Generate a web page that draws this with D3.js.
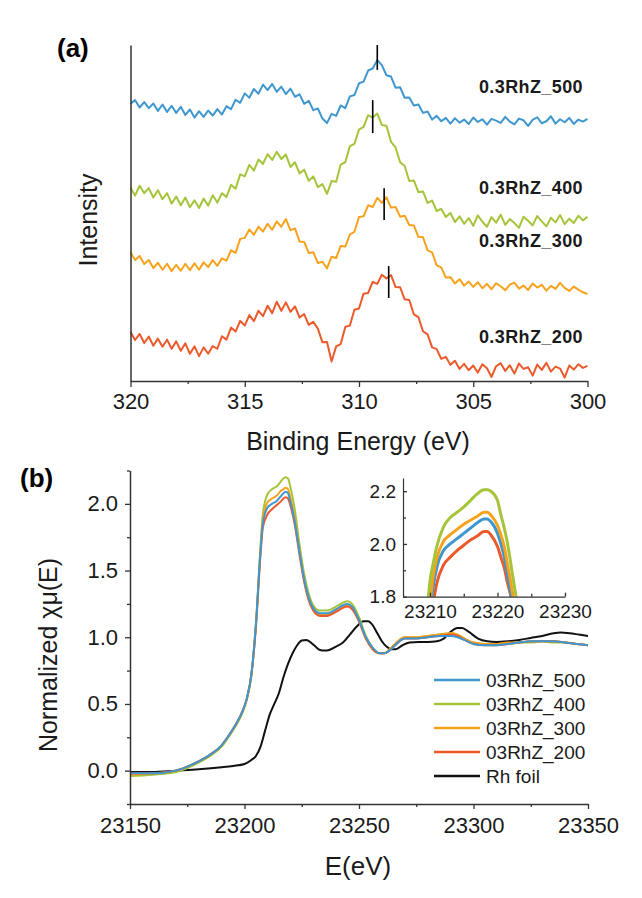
<!DOCTYPE html>
<html><head><meta charset="utf-8">
<script src="https://cdn.jsdelivr.net/npm/d3@7"></script>
<style>
body{margin:0;background:#fff;}
svg text{font-family:"Liberation Sans",Arial,Helvetica,sans-serif;}
</style></head><body>
<svg id="chart" width="642" height="898"></svg>
<script>
// ---------- Panel (a): XPS Rh 3d ----------
const xpsStart = 320, xpsStep = 0.2;
const xpsNames = ["0.3RhZ_500", "0.3RhZ_400", "0.3RhZ_300", "0.3RhZ_200"];
const xps500 = [82.5,83.6,81.4,83.0,81.2,82.6,80.4,82.3,80.1,81.9,
79.8,81.6,79.2,80.8,78.4,80.3,78.6,80.5,79.0,80.9,
79.3,81.8,80.9,83.7,82.8,85.6,84.3,86.9,85.5,88.2,
86.6,88.4,86.1,87.6,85.4,87.0,84.6,85.3,82.5,83.4,
80.6,81.1,78.1,76.8,79.5,78.9,82.0,81.2,84.7,85.1,
88.6,89.1,92.4,93.0,95.5,94.0,91.0,90.6,87.3,87.4,
84.3,84.4,82.0,82.3,79.8,80.2,77.8,78.9,77.3,78.3,
76.6,78.2,76.9,77.8,76.5,78.4,77.1,77.9,76.3,78.0,77.5,76.8,78.6,77.2,76.4,78.1,77.6,75.9,77.7,78.5,76.7,77.3,78.8,76.6,77.9,77.0,78.3,76.5,77.8,77.2,78.0];
const xps400 = [57.5,55.2,58.1,55.9,57.4,54.6,56.8,54.1,55.9,52.8,
54.9,52.3,54.6,51.7,53.8,51.5,54.3,52.2,55.3,53.1,
55.9,54.8,58.4,57.2,61.5,60.9,64.3,62.6,65.9,64.6,
67.5,65.8,68.2,66.1,67.4,63.7,65.1,61.8,62.9,59.6,
60.9,57.7,58.6,55.7,59.5,59.3,64.4,65.1,69.9,70.6,
74.8,75.6,79.1,78.4,79.6,76.2,76.0,71.2,69.5,65.1,
64.0,59.5,59.7,56.2,56.4,53.0,53.7,50.6,51.2,48.8,
50.0,47.3,49.0,46.8,48.5,46.2,49.3,47.4,45.9,48.8,47.1,49.5,46.5,48.2,47.0,45.6,48.9,47.7,46.3,49.1,47.5,46.0,48.6,47.2,49.4,46.7,48.3,47.0,49.2,47.8,48.9];
const xps300 = [38.3,36.0,37.2,34.8,36.0,33.6,35.2,33.1,34.9,32.7,
34.6,32.8,34.9,33.0,35.0,33.1,35.3,33.9,36.0,34.3,
36.5,35.8,38.9,38.1,42.3,42.6,45.1,43.5,45.9,44.5,
46.8,45.0,47.5,45.9,48.2,44.9,45.4,41.5,41.4,38.1,
38.3,35.1,35.5,33.5,37.0,36.6,40.2,40.0,43.6,44.4,
48.8,49.0,52.3,51.8,54.5,53.0,54.7,51.6,51.8,48.9,
49.2,46.4,46.3,42.9,42.8,38.9,38.3,34.4,33.8,30.8,
30.9,29.0,30.3,28.4,29.6,28.0,29.4,27.6,28.9,27.3,29.1,28.2,27.0,28.7,29.3,27.5,28.4,27.1,29.0,27.8,28.6,26.9,28.3,27.4,29.2,27.7,26.8,28.1,27.2,26.4,25.9];
const xps200 = [14.6,12.2,14.0,11.3,13.2,10.5,12.6,10.2,12.3,9.6,
11.8,9.0,11.2,8.1,10.3,7.4,10.0,8.1,10.4,9.6,
13.3,12.3,15.9,14.7,17.9,16.5,19.6,17.8,20.9,19.3,
22.4,20.2,23.6,20.9,23.4,20.6,22.2,18.9,19.9,16.7,
17.6,15.6,11.5,11.6,5.8,10.3,11.0,16.1,16.5,21.2,
21.6,26.0,26.2,29.5,28.9,31.6,30.5,31.5,28.0,27.9,
24.3,24.1,19.8,19.0,14.8,13.9,10.0,9.5,6.6,7.2,
4.8,6.0,3.6,5.1,3.2,4.6,2.5,5.0,3.8,1.2,4.4,5.3,3.0,4.7,2.2,5.2,3.6,4.1,1.6,4.9,3.3,5.4,2.8,4.3,3.7,1.0,4.6,3.4,5.0,3.9,4.5];
const xpsPeakE = [309.2, 309.4, 308.9, 308.7];
const xpsPeakLo = [92.6, 73.8, 47.9, 24.7];
const xpsPeakHi = [100, 83.6, 57.4, 34.2];
const xpsLabelLevel = [87.5, 57.7, 41.7, 13.1];
const xpsTicks = [320, 315, 310, 305, 300];
const xpsMinorTicks = [317.5, 312.5, 307.5, 302.5];

// ---------- Panel (b): XANES Rh K-edge ----------
const xanesNames = ["03RhZ_500", "03RhZ_400", "03RhZ_300", "03RhZ_200", "Rh foil"];
const xanesE = [23150,23160,23170,23175,23180,23185,23190,23193,23196,23199,
23201,23203,23205,23207,23208,23210,23212,23214,23216,23217,
23218,23219,23220,23222,23224,23226,23228,23230,23233,23236,
23240,23243,23245,23247,23250,23253,23256,23259,23261,23264,
23267,23270,23275,23280,23285,23290,23293,23296,23300,23305,
23310,23315,23320,23325,23330,23335,23340,23345,23350];
const mu500 = [-0.02,-0.02,0.00,0.03,0.07,0.12,0.19,0.26,0.34,0.44,
0.54,0.72,1.10,1.65,1.85,1.97,2.00,2.02,2.06,2.08,
2.09,2.08,2.02,1.86,1.64,1.44,1.30,1.22,1.18,1.18,
1.21,1.24,1.25,1.23,1.13,1.00,0.92,0.88,0.88,0.91,
0.96,0.99,0.99,1.00,1.01,1.01,1.00,0.98,0.95,0.94,
0.94,0.95,0.96,0.97,0.97,0.97,0.96,0.95,0.94];
const mu400 = [-0.04,-0.03,-0.01,0.02,0.06,0.11,0.18,0.25,0.33,0.43,
0.53,0.71,1.10,1.68,1.92,2.07,2.11,2.13,2.17,2.19,
2.20,2.19,2.13,1.95,1.70,1.48,1.33,1.24,1.20,1.20,
1.23,1.26,1.27,1.25,1.15,1.01,0.92,0.88,0.88,0.92,
0.97,1.00,1.00,1.01,1.02,1.03,1.02,0.99,0.96,0.95,
0.95,0.95,0.96,0.96,0.97,0.96,0.96,0.95,0.94];
const mu300 = [-0.03,-0.02,0.00,0.03,0.07,0.12,0.19,0.26,0.34,0.44,
0.54,0.72,1.10,1.66,1.88,2.01,2.04,2.06,2.10,2.11,
2.12,2.11,2.05,1.88,1.65,1.44,1.29,1.21,1.17,1.17,
1.20,1.23,1.24,1.22,1.12,0.99,0.91,0.88,0.88,0.92,
0.97,1.00,1.00,1.01,1.02,1.03,1.02,0.99,0.96,0.95,
0.95,0.96,0.96,0.97,0.97,0.97,0.96,0.95,0.94];
const mu200 = [-0.02,-0.02,0.00,0.03,0.07,0.12,0.19,0.26,0.34,0.44,
0.54,0.72,1.08,1.62,1.82,1.92,1.96,1.99,2.02,2.04,
2.05,2.04,1.99,1.84,1.62,1.42,1.28,1.20,1.16,1.16,
1.19,1.22,1.23,1.21,1.12,0.99,0.91,0.88,0.88,0.91,
0.96,0.99,0.99,1.00,1.01,1.02,1.01,0.98,0.95,0.94,
0.94,0.95,0.96,0.97,0.97,0.97,0.96,0.95,0.94];
const foilE = [23150,23160,23170,23180,23190,23195,23200,23203,23205,23207,
23209,23211,23213,23215,23217,23219,23221,23223,23225,23227,
23229,23231,23233,23235,23237,23240,23243,23246,23249,23252,
23254,23256,23258,23260,23262,23264,23266,23269,23272,23276,
23280,23284,23287,23290,23293,23295,23298,23302,23306,23310,
23315,23320,23325,23330,23335,23338,23342,23346,23350];
const muFoil = [-0.01,-0.01,0.00,0.01,0.025,0.035,0.05,0.08,0.11,0.18,
0.30,0.42,0.50,0.58,0.70,0.80,0.88,0.94,0.975,0.98,
0.96,0.93,0.905,0.90,0.905,0.93,0.96,1.02,1.08,1.12,
1.12,1.09,1.03,0.97,0.93,0.91,0.91,0.94,0.96,0.965,
0.965,0.97,0.99,1.04,1.07,1.07,1.04,0.99,0.97,0.965,
0.97,0.98,0.995,1.01,1.03,1.035,1.03,1.02,1.01];
const xanesXTicks = [23150, 23200, 23250, 23300, 23350];
const xanesXMinor = [23175, 23225, 23275, 23325];
const xanesYTicks = [0.0, 0.5, 1.0, 1.5, 2.0];
const xanesYMinor = [-0.25, 0.25, 0.75, 1.25, 1.75, 2.25];

// inset (white line zoom)
const insetE = [23209.5,23210,23210.5,23211,23212,23213,23214,23215,23216,23217,
23218,23218.5,23219,23220,23220.5,23221,23221.5,23222,23222.5,23223];
const inset500 = [1.64,1.74,1.84,1.91,1.975,2.00,2.02,2.04,2.06,2.08,2.095,2.095,2.085,2.04,2.00,1.95,1.88,1.81,1.73,1.66];
const inset400 = [1.72,1.86,1.93,1.99,2.065,2.10,2.12,2.14,2.165,2.19,2.205,2.205,2.20,2.165,2.11,2.06,2.00,1.92,1.84,1.76];
const inset300 = [1.68,1.78,1.88,1.945,2.01,2.035,2.055,2.075,2.09,2.105,2.12,2.12,2.11,2.07,2.035,1.99,1.92,1.85,1.77,1.70];
const inset200 = [1.60,1.70,1.78,1.85,1.92,1.95,1.975,1.995,2.015,2.03,2.047,2.047,2.035,1.99,1.95,1.91,1.85,1.80,1.73,1.66];
const insetXTicks = [23210, 23220, 23230];
const insetXMinor = [23215, 23225];
const insetYTicks = [1.8, 2.0, 2.2];
const insetYMinor = [1.9, 2.1];

// ---------- styles ----------
const colors = ["#3f97cf", "#a5c43a", "#f6a21c", "#ec5a2c", "#111111"];
const axisColor = "#333";
const textColor = "#1a1a1a";

const svg = d3.select("#chart");

function styleAxis(g, fs) {
  g.selectAll("path.domain").attr("stroke", axisColor).attr("stroke-width", 1.5);
  g.selectAll(".tick line").attr("stroke", axisColor).attr("stroke-width", 1.3);
  g.selectAll(".tick text").attr("fill", textColor).style("font-size", fs + "px")
    .style("font-family", '"Liberation Sans", Arial, sans-serif');
  g.attr("font-family", null).attr("font-size", null);
}

// ================= Panel (a) =================
const xA = d3.scaleLinear().domain([320, 300]).range([130.5, 587.5]);
const yA = d3.scaleLinear().domain([0, 100]).range([381, 45]);
const xpsE = xps500.map((_, i) => +(xpsStart - i * xpsStep).toFixed(2));
const xpsSeries = [xps500, xps400, xps300, xps200];

const gA = svg.append("g");
const lineA = d3.line().x((d, i) => xA(xpsE[i])).y(d => yA(d));
xpsSeries.forEach((s, k) => {
  gA.append("path").datum(s).attr("d", lineA)
    .attr("fill", "none").attr("stroke", colors[k]).attr("stroke-width", 2)
    .attr("stroke-linejoin", "round");
});
xpsPeakE.forEach((e, k) => {
  gA.append("line").attr("x1", xA(e)).attr("x2", xA(e))
    .attr("y1", yA(xpsPeakLo[k])).attr("y2", yA(xpsPeakHi[k]))
    .attr("stroke", "#000").attr("stroke-width", 1.6);
});
xpsNames.forEach((n, k) => {
  gA.append("text").attr("x", 583).attr("y", yA(xpsLabelLevel[k])).attr("dy", "0.36em")
    .attr("text-anchor", "end").style("font-size", "18px").style("font-weight", "bold")
    .style("letter-spacing", "0.4px").attr("fill", textColor).text(n);
});
// axes
const axA = gA.append("g").attr("transform", "translate(0,381)")
  .call(d3.axisBottom(xA).tickValues(xpsTicks).tickSize(6).tickSizeOuter(0).tickPadding(6).tickFormat(d3.format("d")));
styleAxis(axA, 22);
const axAm = gA.append("g").attr("transform", "translate(0,381)")
  .call(d3.axisBottom(xA).tickValues(xpsMinorTicks).tickSize(3).tickSizeOuter(0).tickFormat(""));
axAm.select("path.domain").remove();
styleAxis(axAm, 10);
const ayA = gA.append("g").attr("transform", "translate(130.5,0)")
  .call(d3.axisLeft(yA).tickValues([]).tickSizeOuter(0));
styleAxis(ayA, 10);

gA.append("text").attr("x", 358).attr("y", 450).attr("text-anchor", "middle")
  .style("font-size", "25px").attr("fill", textColor).text("Binding Energy (eV)");
gA.append("text").attr("transform", "translate(97,220) rotate(-90)").attr("text-anchor", "middle")
  .style("font-size", "25px").attr("fill", textColor).text("Intensity");
gA.append("text").attr("x", 57).attr("y", 57).style("font-size", "26px").style("font-weight", "bold")
  .attr("fill", "#000").text("(a)");

// ================= Panel (b) =================
const xB = d3.scaleLinear().domain([23150, 23350]).range([130, 588]);
const yB = d3.scaleLinear().domain([-0.25, 2.25]).range([804, 470.5]);
const gB = svg.append("g");
gB.append("clipPath").attr("id", "clipB").append("rect")
  .attr("x", 130).attr("y", 465).attr("width", 460).attr("height", 339);

const sampleSeries = [mu400, mu300, mu200, mu500];
const sampleColors = [colors[1], colors[2], colors[3], colors[0]];
const lineB = d3.line().curve(d3.curveMonotoneX).x((d, i) => xB(xanesE[i])).y(d => yB(d));
const lineFoil = d3.line().curve(d3.curveMonotoneX).x((d, i) => xB(foilE[i])).y(d => yB(d));
const plotB = gB.append("g").attr("clip-path", "url(#clipB)");
plotB.append("path").datum(muFoil).attr("d", lineFoil).attr("fill", "none")
  .attr("stroke", colors[4]).attr("stroke-width", 2);
sampleSeries.forEach((s, k) => {
  plotB.append("path").datum(s).attr("d", lineB).attr("fill", "none")
    .attr("stroke", sampleColors[k]).attr("stroke-width", 2);
});

const axB = gB.append("g").attr("transform", "translate(0,804)")
  .call(d3.axisBottom(xB).tickValues(xanesXTicks).tickSize(5).tickSizeOuter(0).tickPadding(8).tickFormat(d3.format("d")));
styleAxis(axB, 22);
const axBm = gB.append("g").attr("transform", "translate(0,804)")
  .call(d3.axisBottom(xB).tickValues(xanesXMinor).tickSize(3).tickSizeOuter(0).tickFormat(""));
axBm.select("path.domain").remove(); styleAxis(axBm, 10);
const ayB = gB.append("g").attr("transform", "translate(130,0)")
  .call(d3.axisLeft(yB).tickValues(xanesYTicks).tickSize(5).tickSizeOuter(0).tickPadding(7).tickFormat(d3.format(".1f")));
styleAxis(ayB, 22);
const ayBm = gB.append("g").attr("transform", "translate(130,0)")
  .call(d3.axisLeft(yB).tickValues(xanesYMinor).tickSize(3).tickSizeOuter(0).tickFormat(""));
ayBm.select("path.domain").remove(); styleAxis(ayBm, 10);

gB.append("text").attr("x", 358).attr("y", 875).attr("text-anchor", "middle")
  .style("font-size", "26px").attr("fill", textColor).text("E(eV)");
gB.append("text").attr("transform", "translate(57,655) rotate(-90)").attr("text-anchor", "middle")
  .style("font-size", "25px").attr("fill", textColor).text("Normalized χμ(E)");
gB.append("text").attr("x", 20).attr("y", 487).style("font-size", "26px").style("font-weight", "bold")
  .attr("fill", "#000").text("(b)");

// legend
const legendSeries = [0, 1, 2, 3, 4];
legendSeries.forEach((k, r) => {
  const y = 680 + r * 24;
  gB.append("line").attr("x1", 434).attr("x2", 480).attr("y1", y).attr("y2", y)
    .attr("stroke", colors[k]).attr("stroke-width", 2.5);
  gB.append("text").attr("x", 486).attr("y", y).attr("dy", "0.35em")
    .style("font-size", "19px").attr("fill", textColor).text(xanesNames[k]);
});

// inset
const xI = d3.scaleLinear().domain([23206, 23230]).range([403, 565]);
const yI = d3.scaleLinear().domain([1.8, 2.25]).range([596.7, 478]);
const gI = svg.append("g");
gI.append("clipPath").attr("id", "clipI").append("rect")
  .attr("x", 403).attr("y", 470).attr("width", 162).attr("height", 126.7);
const lineI = d3.line().curve(d3.curveMonotoneX).x((d, i) => xI(insetE[i])).y(d => yI(d));
const insetSeries = [inset200, inset500, inset300, inset400];
const insetColors = [colors[3], colors[0], colors[2], colors[1]];
const plotI = gI.append("g").attr("clip-path", "url(#clipI)");
insetSeries.forEach((s, k) => {
  plotI.append("path").datum(s).attr("d", lineI).attr("fill", "none")
    .attr("stroke", insetColors[k]).attr("stroke-width", 3);
});
const axI = gI.append("g").attr("transform", "translate(0,596.7)")
  .call(d3.axisBottom(xI).tickValues(insetXTicks).tickSize(-4).tickSizeOuter(0).tickPadding(8).tickFormat(d3.format("d")));
styleAxis(axI, 19);
const axIm = gI.append("g").attr("transform", "translate(0,596.7)")
  .call(d3.axisBottom(xI).tickValues(insetXMinor).tickSize(-3).tickSizeOuter(0).tickFormat(""));
axIm.select("path.domain").remove(); styleAxis(axIm, 10);
const ayI = gI.append("g").attr("transform", "translate(403,0)")
  .call(d3.axisLeft(yI).tickValues(insetYTicks).tickSize(-4).tickSizeOuter(0).tickPadding(7).tickFormat(d3.format(".1f")));
styleAxis(ayI, 19);
const ayIm = gI.append("g").attr("transform", "translate(403,0)")
  .call(d3.axisLeft(yI).tickValues(insetYMinor).tickSize(-3).tickSizeOuter(0).tickFormat(""));
ayIm.select("path.domain").remove(); styleAxis(ayIm, 10);
[axI, ayI].forEach(g => g.selectAll("path.domain").attr("stroke-width", 1.2));
</script></body></html>
